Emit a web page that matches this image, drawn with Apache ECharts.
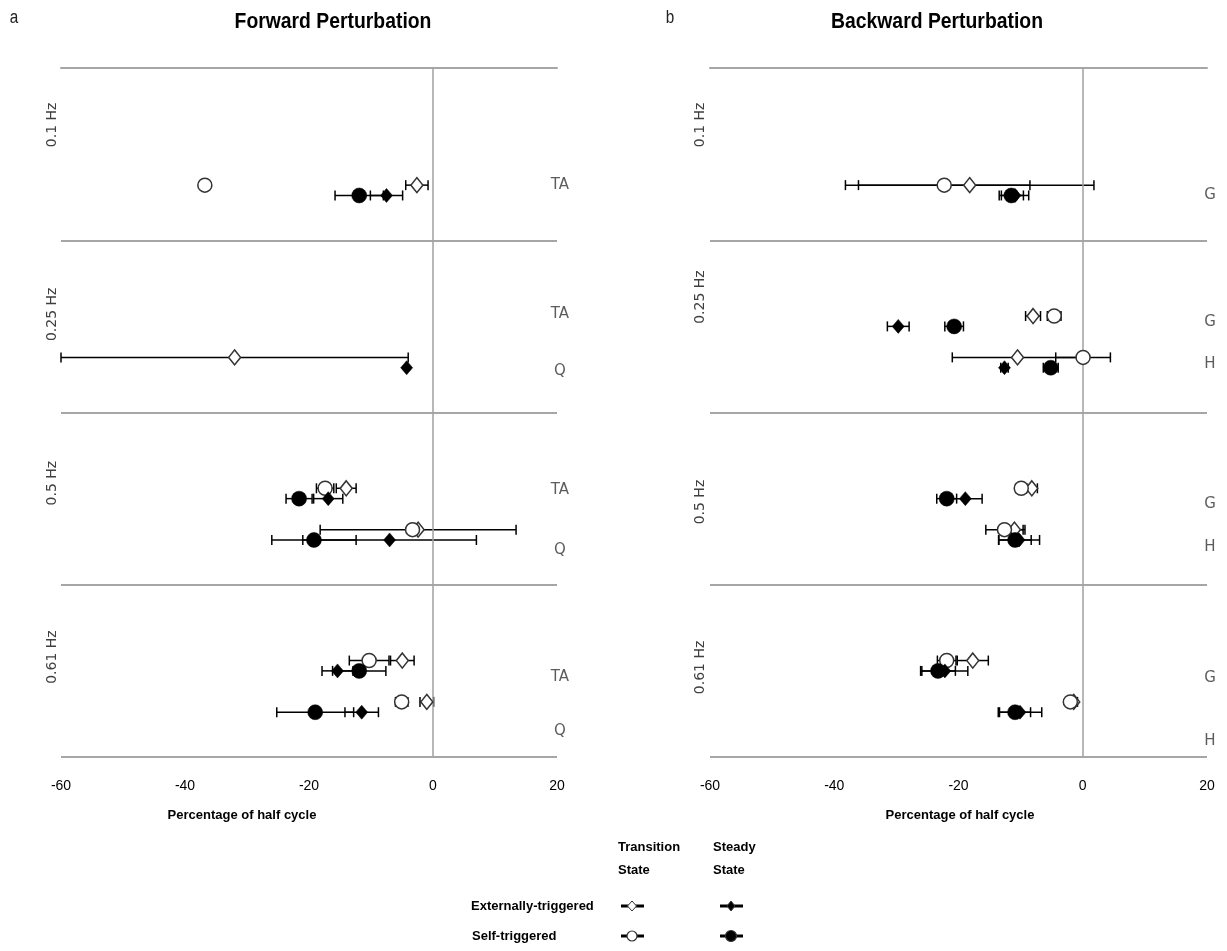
<!DOCTYPE html>
<html><head><meta charset="utf-8">
<script src="https://cdn.jsdelivr.net/npm/echarts@6/dist/echarts.min.js"></script>
<style>html,body{margin:0;padding:0;background:#fff}#c{width:1227px;height:951px}</style>
</head><body><div id="c"></div>
<script>
// ---------- DATA ----------
const bands = ['0.1 Hz', '0.25 Hz', '0.5 Hz', '0.61 Hz'];
const xTicks = [-60, -40, -20, 0, 20];
const panelTitles = ['Forward Perturbation', 'Backward Perturbation'];
const panelLetters = ['a', 'b'];
const axisName = 'Percentage of half cycle';

// Forward perturbation rows (band index, muscle)
const fwdRowBand = [0, 1, 1, 2, 2, 3, 3];
const fwdRowMuscle = ['TA', 'TA', 'Q', 'TA', 'Q', 'TA', 'Q'];
const fwdTransExt = [-2.6, null, -32.0, -14.0, -2.4, -4.95, -1.0];
const fwdTransExtErr = [1.8, null, 28.0, 1.6, 15.8, 1.9, 1.1];
const fwdTransSelf = [-36.8, null, null, -17.4, -3.3, -10.3, -5.05];
const fwdTransSelfErr = [0, null, null, 1.4, 0.8, 3.2, 1.0];
const fwdSteadyExt = [-7.5, null, -4.25, -16.9, -7.0, -15.4, -11.5];
const fwdSteadyExtErr = [2.6, null, 0, 2.35, 14.0, 2.5, 2.7];
const fwdSteadySelf = [-11.9, null, null, -21.6, -19.2, -11.9, -19.0];
const fwdSteadySelfErr = [3.9, null, null, 2.1, 6.8, 4.3, 6.2];

// Backward perturbation rows
const bwdRowBand = [0, 1, 1, 2, 2, 3, 3];
const bwdRowMuscle = ['G', 'G', 'H', 'G', 'H', 'G', 'H'];
const bwdTransExt = [-18.2, -8.0, -10.5, -8.2, -11.0, -17.7, -1.45];
const bwdTransExtErr = [20.0, 1.2, 10.5, 0.9, 1.7, 2.5, 0.6];
const bwdTransSelf = [-22.3, -4.6, 0.05, -9.9, -12.6, -21.9, -2.0];
const bwdTransSelfErr = [13.8, 1.1, 4.4, 0.9, 3.0, 1.5, 0.6];
const bwdSteadyExt = [-10.9, -29.7, -12.6, -18.9, -10.25, -22.2, -10.1];
const bwdSteadyExtErr = [2.2, 1.75, 0.6, 2.7, 3.3, 3.7, 3.5];
const bwdSteadySelf = [-11.5, -20.7, -5.15, -21.9, -10.9, -23.3, -10.9];
const bwdSteadySelfErr = [1.95, 1.5, 1.2, 1.6, 2.6, 2.8, 2.5];

const legendCols = ['Transition\nState', 'Steady\nState'];
const legendRows = ['Externally-triggered', 'Self-triggered'];

// ---------- LAYOUT ----------
const SLOT_POS = [0.44, 0.68];     // row positions inside a band (band units)
const STEADY_OFF = 0.06;           // steady-state markers drawn slightly lower
const fwdLabelPos = [0.68, 0.43, 0.76, 0.45, 0.80, 0.535, 0.85];
const bwdLabelPos = [0.74, 0.475, 0.72, 0.53, 0.78, 0.54, 0.91];
const bandLabelPos = [[0.33, 0.43, 0.41, 0.42], [0.33, 0.33, 0.52, 0.48]];
const NARROW = "'Liberation Sans Narrow','Liberation Sans',Arial,sans-serif";
const DEJ = "'DejaVu Sans',sans-serif";

function rowPositions(rowBand) {
  return rowBand.map((b, i) => {
    const same = rowBand.filter(x => x === b).length;
    const idx = rowBand.slice(0, i).filter(x => x === b).length;
    const slot = same === 1 ? 1 : idx;
    return b + SLOT_POS[slot];
  });
}

const panels = [
  { band: fwdRowBand, muscle: fwdRowMuscle, labelPos: fwdLabelPos,
    te: fwdTransExt, teE: fwdTransExtErr, ts: fwdTransSelf, tsE: fwdTransSelfErr,
    se: fwdSteadyExt, seE: fwdSteadyExtErr, ss: fwdSteadySelf, ssE: fwdSteadySelfErr },
  { band: bwdRowBand, muscle: bwdRowMuscle, labelPos: bwdLabelPos,
    te: bwdTransExt, teE: bwdTransExtErr, ts: bwdTransSelf, tsE: bwdTransSelfErr,
    se: bwdSteadyExt, seE: bwdSteadyExtErr, ss: bwdSteadySelf, ssE: bwdSteadySelfErr }
];

function errSeries(g, means, errs, ys) {
  const data = [];
  means.forEach((m, i) => {
    if (m == null || !errs[i]) return;
    data.push([m - errs[i], m + errs[i], ys[i]]);
  });
  return {
    type: 'custom', xAxisIndex: g, yAxisIndex: g, z: 3, silent: true, data,
    encode: { x: [0, 1], y: 2 },
    renderItem: (params, api) => {
      const a = api.coord([api.value(0), api.value(2)]);
      const b = api.coord([api.value(1), api.value(2)]);
      const h = 5, st = { stroke: '#000', lineWidth: 1.5 };
      return { type: 'group', children: [
        { type: 'line', shape: { x1: a[0], y1: a[1], x2: b[0], y2: b[1] }, style: st },
        { type: 'line', shape: { x1: a[0], y1: a[1] - h, x2: a[0], y2: a[1] + h }, style: st },
        { type: 'line', shape: { x1: b[0], y1: b[1] - h, x2: b[0], y2: b[1] + h }, style: st }
      ] };
    }
  };
}

function markSeries(g, means, ys, symbol, size, open, z) {
  const data = [];
  means.forEach((m, i) => { if (m != null) data.push([m, ys[i]]); });
  return {
    type: 'scatter', xAxisIndex: g, yAxisIndex: g, z, silent: true, data,
    symbol, symbolSize: size,
    itemStyle: open ? { color: '#fff', borderColor: '#333', borderWidth: 1.5, opacity: 1 }
                    : { color: '#000', borderColor: '#000', borderWidth: 0.5, opacity: 1 }
  };
}

const series = [];
panels.forEach((p, g) => {
  const yT = rowPositions(p.band);
  const yS = yT.map(v => v + STEADY_OFF);
  series.push(errSeries(g, p.te, p.teE, yT));
  series.push(errSeries(g, p.ts, p.tsE, yT));
  series.push(errSeries(g, p.ss, p.ssE, yS));
  series.push(errSeries(g, p.se, p.seE, yS));
  series.push(markSeries(g, p.te, yT, 'diamond', [12, 15], true, 5));
  series.push(markSeries(g, p.ts, yT, 'circle', 14, true, 6));
  series.push(markSeries(g, p.ss, yS, 'circle', 15, false, 7));
  series.push(markSeries(g, p.se, yS, 'diamond', [12, 14], false, 8));
  // row labels + zero line
  series.push({
    type: 'scatter', xAxisIndex: g, yAxisIndex: g, z: 2, silent: true,
    symbolSize: 0,
    data: p.muscle.map((m, i) => ({ name: m, value: [xTicks[xTicks.length - 1], p.band[i] + p.labelPos[i]] })),
    label: { show: true, position: 'inside', offset: [3, 0], formatter: '{b}', color: '#333', fontSize: 15, fontFamily: DEJ },
    markLine: { silent: true, symbol: 'none', label: { show: false },
      lineStyle: { color: '#a0a0a0', width: 1.5, type: 'solid' }, data: [{ xAxis: 0 }] }
  });
});

const grids = [
  { left: 61, top: 68, width: 496, height: 689 },
  { left: 710, top: 68, width: 497, height: 689 }
];

const option = {
  animation: false,
  backgroundColor: '#fff',
  grid: grids,
  xAxis: grids.map((_, g) => ({
    type: 'value', gridIndex: g, min: xTicks[0], max: xTicks[xTicks.length - 1], interval: 20,
    axisLine: { show: true, lineStyle: { color: '#a6a6a6', width: 2 } },
    axisTick: { show: false },
    splitLine: { show: false },
    axisLabel: { color: '#000', fontSize: 14, fontFamily: NARROW, margin: 22 }
  })),
  yAxis: grids.map((_, g) => ({
    type: 'value', gridIndex: g, min: 0, max: bands.length, interval: 1, inverse: true,
    axisLine: { show: false }, axisTick: { show: false }, axisLabel: { show: false },
    splitLine: { show: true, lineStyle: { color: '#a6a6a6', width: 2 } }
  })),
  series
};

const chart = echarts.init(document.getElementById('c'));
chart.setOption(option);

// ---------- texts ----------
const graphic = [];
const titleX = [333, 937];
const letterX = [14, 670];
const axisNameX = [242, 960];
const bandLabelX = [52, 700];
[0, 1].forEach(g => {
  graphic.push({ type: 'text', x: titleX[g], y: 22, scaleX: 0.88, style: { text: panelTitles[g], font: 'bold 22px ' + NARROW, fill: '#000', textAlign: 'center', textVerticalAlign: 'middle' } });
  graphic.push({ type: 'text', x: letterX[g], y: 18, scaleX: 0.85, style: { text: panelLetters[g], font: '18px ' + NARROW, fill: '#222', textAlign: 'center', textVerticalAlign: 'middle' } });
  graphic.push({ type: 'text', x: axisNameX[g], y: 815, style: { text: axisName, font: 'bold 13px ' + NARROW, fill: '#000', textAlign: 'center', textVerticalAlign: 'middle' } });
  bands.forEach((b, i) => {
    const pt = chart.convertToPixel({ gridIndex: g }, [xTicks[0], i + bandLabelPos[g][i]]);
    graphic.push({ type: 'text', x: bandLabelX[g], y: pt[1], rotation: Math.PI / 2,
      style: { text: b, font: '14px ' + DEJ, fill: '#404040', textAlign: 'center', textVerticalAlign: 'middle' } });
  });
});

// legend
const colX = [618, 713];
legendCols.forEach((t, i) => {
  t.split('\n').forEach((line, j) => {
    graphic.push({ type: 'text', x: colX[i], y: 847 + j * 23, style: { text: line, font: 'bold 13px ' + NARROW, fill: '#000', textAlign: 'left', textVerticalAlign: 'middle' } });
  });
});
const rowY = [906, 936];
const rowX = [471, 472];
legendRows.forEach((t, i) => {
  graphic.push({ type: 'text', x: rowX[i], y: rowY[i], style: { text: t, font: 'bold 13px ' + NARROW, fill: '#000', textAlign: 'left', textVerticalAlign: 'middle' } });
});
const symX = [632, 731];
[[0, 0], [0, 1], [1, 0], [1, 1]].forEach(([r, c]) => {
  const cx = symX[c], cy = rowY[r];
  graphic.push({ type: 'line', shape: { x1: cx - 11, y1: cy, x2: cx + 12, y2: cy }, style: { stroke: '#000', lineWidth: 3 } });
  const open = c === 0;
  const fill = open ? '#fff' : '#000';
  if (r === 0) {
    const w = open ? 4.5 : 4, h = 5;
    graphic.push({ type: 'polygon', shape: { points: [[cx, cy - h], [cx + w, cy], [cx, cy + h], [cx - w, cy]] }, style: { fill, stroke: '#333', lineWidth: 1 } });
  } else {
    graphic.push({ type: 'circle', shape: { cx, cy, r: open ? 5 : 5.5 }, style: { fill, stroke: '#333', lineWidth: 1.2 } });
  }
});
chart.setOption({ graphic });
</script>
</body></html>
